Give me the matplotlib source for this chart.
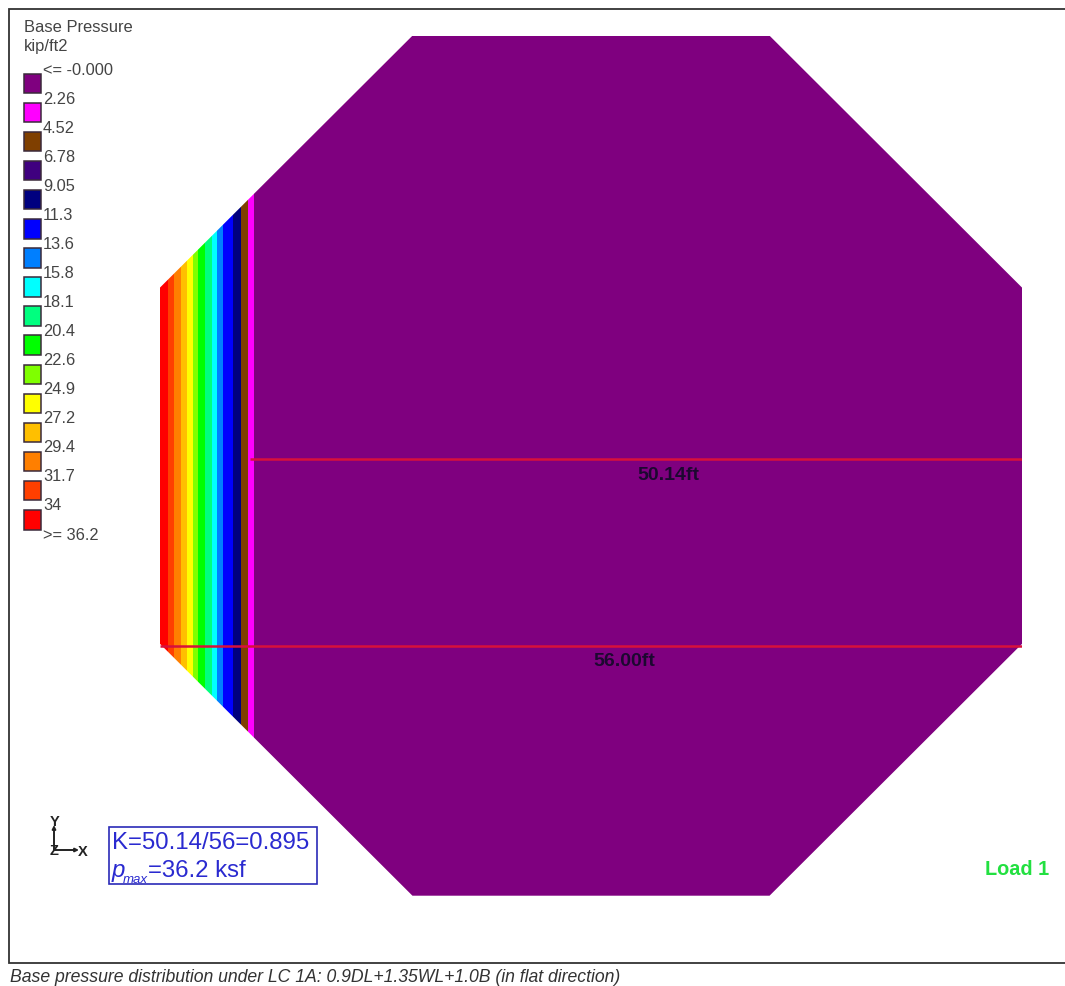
import matplotlib
matplotlib.use('Agg')
import matplotlib.pyplot as plt
from matplotlib.patches import Polygon, Rectangle

plt.rcParams['font.family'] = ['Liberation Sans', 'DejaVu Sans']
W, H = 1065, 987

legend_title = ['Base Pressure', 'kip/ft2']
legend_labels = ['<= -0.000', '2.26', '4.52', '6.78', '9.05', '11.3', '13.6', '15.8', '18.1',
                 '20.4', '22.6', '24.9', '27.2', '29.4', '31.7', '34', '>= 36.2']
legend_colors = ['#7f007f', '#ff00ff', '#7f3f00', '#3f007f', '#00007f', '#0000ff', '#007fff', '#00ffff',
                 '#00ff7f', '#00ff00', '#7fff00', '#ffff00', '#ffbf00', '#ff7f00', '#ff3f00', '#ff0000']

# Octagon footprint, in feet from the left and bottom of the foundation
foot_width = 56.0
chamfer = 16.4
# Right edge of each coloured band, from the red edge to the purple zone (ft)
band_edges = [0.52, 0.91, 1.36, 1.75, 2.14, 2.47, 2.92, 3.38, 3.70, 4.09, 4.74, 5.26, 5.72, 6.11, 56.0]
band_colors = ['#ff0000', '#ff3f00', '#ff7f00', '#ffbf00', '#ffff00', '#7fff00', '#00ff00', '#00ff7f',
               '#00ffff', '#007fff', '#0000ff', '#00007f', '#7f3f00', '#ff00ff', '#7f007f']
line_50_y = 28.45
line_56_y = 16.27
line_50_start = 5.86
label_50 = '50.14ft'
label_56 = '56.00ft'
note_lines = ['K=50.14/56=0.895', 'p', 'max', '=36.2 ksf']
load_label = 'Load 1'
caption = 'Base pressure distribution under LC 1A: 0.9DL+1.35WL+1.0B (in flat direction)'

fig = plt.figure(figsize=(W / 100, H / 100), dpi=100, facecolor='white')
# Pixel overlay for legend furniture and page frame
page = fig.add_axes([0, 0, 1, 1])
page.set_xlim(0, W); page.set_ylim(H, 0); page.axis('off')
page.add_patch(Rectangle((9, 9.5), W, 954, fc='white', ec='#333333', lw=1.3))

# Plan-view axes in feet
ax = fig.add_axes([160 / W, (H - 896.7) / H, 862 / W, 860 / H])
ax.set_xlim(0, foot_width); ax.set_ylim(0, foot_width); ax.axis('off')

octagon = [(chamfer, 0), (foot_width - chamfer, 0), (foot_width, chamfer), (foot_width, foot_width - chamfer),
           (foot_width - chamfer, foot_width), (chamfer, foot_width), (0, foot_width - chamfer), (0, chamfer)]
clip = Polygon(octagon, closed=True, fc='none', ec='none', transform=ax.transData)
ax.add_patch(clip)
left = 0.0
for right, color in zip(band_edges, band_colors):
    band = ax.axvspan(left, right, color=color, lw=0)
    band.set_clip_path(clip)
    left = right

ax.plot([line_50_start, foot_width], [line_50_y, line_50_y], color='#d8103c', lw=1.8, solid_capstyle='butt')
ax.plot([0, foot_width], [line_56_y, line_56_y], color='#d8103c', lw=1.8, solid_capstyle='butt')
page.set_zorder(0); ax.set_zorder(1); ax.patch.set_alpha(0)
ax.text(33.04, line_50_y - 1.0, label_50, ha='center', va='center', fontsize=14, fontweight='bold', color='#1c0830')
ax.text(30.15, line_56_y - 0.95, label_56, ha='center', va='center', fontsize=14, fontweight='bold', color='#1c0830')

# Legend
page.text(24, 27.5, legend_title[0], fontsize=11.9, color='#444444', va='center')
page.text(24, 46.5, legend_title[1], fontsize=11.9, color='#444444', va='center')
for i, label in enumerate(legend_labels):
    y = 70.5 + i * 28.98
    if i == 16:
        y = 535.5
    page.text(43, y, label, fontsize=11.8, color='#444444', va='center')
for i, color in enumerate(legend_colors):
    y = 74.5 + i * 29.1
    page.add_patch(Rectangle((24, y), 16.5, 19.5, fc=color, ec='#3a2a3a', lw=1.1))

# Coordinate triad
arrow = dict(arrowstyle='-|>', color='#222222', lw=1.4, shrinkA=0, shrinkB=0, mutation_scale=5)
page.annotate('', xy=(79, 851), xytext=(54, 851), arrowprops=arrow)
page.annotate('', xy=(54, 826), xytext=(54, 851), arrowprops=arrow)
page.text(54.5, 822, 'Y', fontsize=10.5, fontweight='bold', ha='center', va='center', color='#222222')
page.text(83, 852, 'X', fontsize=10.5, fontweight='bold', ha='center', va='center', color='#222222')
page.text(54.5, 851, 'Z', fontsize=10.5, fontweight='bold', ha='center', va='center', color='#222222')

# Note box
page.add_patch(Rectangle((109, 827.5), 208, 57.5, fc='white', ec='#2a2ab8', lw=1.2))
page.text(112, 849, note_lines[0], fontsize=17.3, color='#2a2ad0', va='baseline')
page.text(112, 877, note_lines[1], fontsize=17.3, style='italic', color='#2a2ad0', va='baseline')
page.text(123, 883, note_lines[2], fontsize=9.5, style='italic', color='#2a2ad0', va='baseline')
page.text(148, 877, note_lines[3], fontsize=17.3, color='#2a2ad0', va='baseline')

page.text(1017, 869.5, load_label, fontsize=14.3, fontweight='bold', color='#22e040', ha='center', va='center')
page.text(10, 978, caption, fontsize=12.66, style='italic', color='#333333', va='center')

fig.savefig('out.png', dpi=100)
